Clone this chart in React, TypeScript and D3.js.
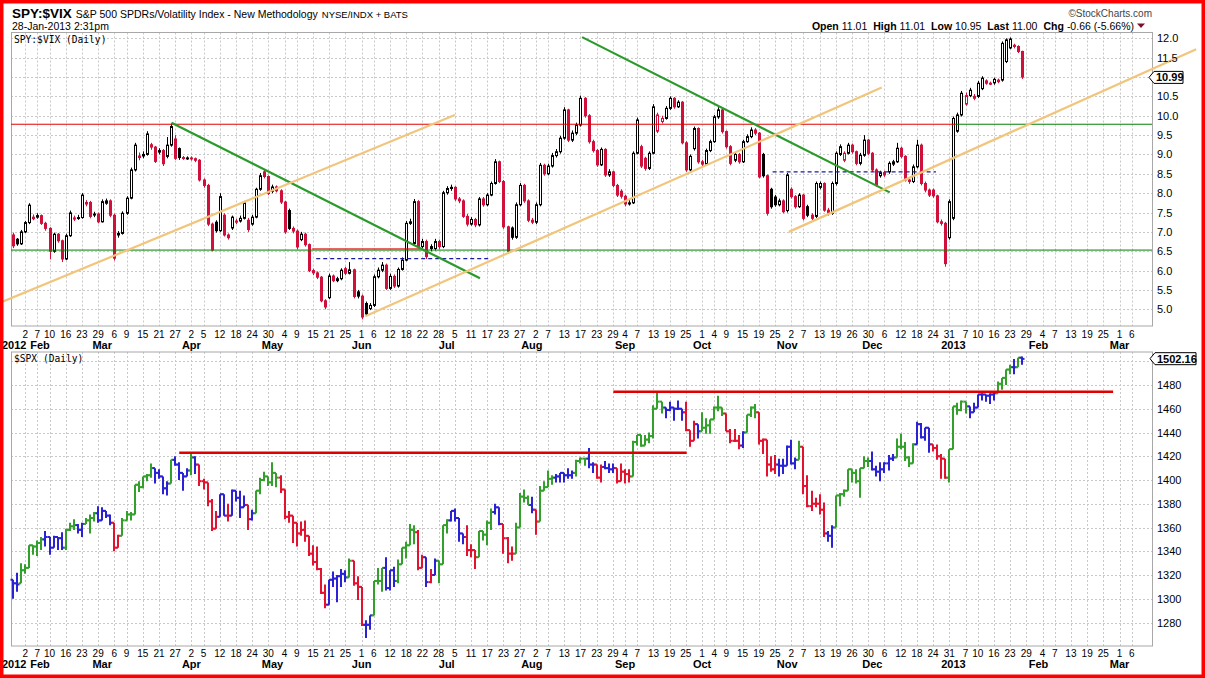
import React from 'react';
import * as d3 from 'd3';

// market holidays inside the charted range (trading-day axis skips them)
const holidays = [
  '2012-02-20', '2012-04-06', '2012-05-28', '2012-07-04', '2012-09-03', '2012-10-29',
  '2012-10-30', '2012-11-22', '2012-12-25', '2013-01-01', '2013-01-21',
];

const tickDates = [
  '2012-02-02', '2012-02-07', '2012-02-10', '2012-02-16', '2012-02-23', '2012-02-29',
  '2012-03-06', '2012-03-09', '2012-03-15', '2012-03-21', '2012-03-27',
  '2012-04-02', '2012-04-05', '2012-04-12', '2012-04-18', '2012-04-24', '2012-04-30',
  '2012-05-04', '2012-05-09', '2012-05-15', '2012-05-21', '2012-05-25',
  '2012-06-01', '2012-06-06', '2012-06-12', '2012-06-18', '2012-06-22', '2012-06-28',
  '2012-07-05', '2012-07-11', '2012-07-17', '2012-07-23', '2012-07-27',
  '2012-08-02', '2012-08-07', '2012-08-13', '2012-08-17', '2012-08-23', '2012-08-29',
  '2012-09-04', '2012-09-07', '2012-09-13', '2012-09-19', '2012-09-25',
  '2012-10-01', '2012-10-04', '2012-10-09', '2012-10-15', '2012-10-19', '2012-10-25',
  '2012-11-02', '2012-11-07', '2012-11-13', '2012-11-19', '2012-11-26', '2012-11-30',
  '2012-12-06', '2012-12-12', '2012-12-18', '2012-12-24', '2012-12-31',
  '2013-01-07', '2013-01-10', '2013-01-16', '2013-01-23', '2013-01-29',
  '2013-02-04', '2013-02-07', '2013-02-13', '2013-02-19', '2013-02-25',
  '2013-03-01', '2013-03-06',
];

// SPY:$VIX daily candles, 2012-01-30 .. 2013-01-28
const ratioOpen = [
  6.92, 6.81, 6.69, 7.00, 7.24, 7.34, 7.38, 7.42, 7.22, 7.09,
  6.50, 6.94, 6.77, 6.30, 6.90, 7.33, 7.36, 7.37, 7.72, 7.76,
  7.44, 7.46, 7.26, 7.74, 7.80, 7.43, 6.92, 6.96, 7.48, 7.87,
  8.60, 8.92, 8.96, 9.00, 9.25, 9.19, 9.06, 9.10, 8.95, 9.24,
  9.40, 9.15, 8.92, 8.90, 8.91, 8.89, 8.85, 8.34, 8.20, 7.20,
  7.25, 7.03, 7.43, 6.92, 7.10, 7.25, 7.28, 7.35, 7.30, 7.20,
  7.38, 8.10, 8.55, 8.43, 8.05, 8.16, 8.06, 7.77, 7.55, 7.09,
  7.02, 6.80, 6.94, 6.67, 6.00, 5.94, 5.83, 5.22, 5.30, 5.86,
  5.74, 5.79, 6.05, 5.93, 6.02, 5.45, 5.34, 5.15, 5.02, 5.10,
  5.84, 6.01, 6.14, 5.54, 5.85, 5.60, 6.03, 6.27, 7.22, 6.70,
  7.78, 6.62, 6.75, 6.62, 6.57, 6.75, 6.62, 8.01, 8.12, 8.15,
  7.85, 7.80, 7.40, 7.20, 7.32, 7.18, 7.85, 7.70, 7.95, 8.25,
  8.81, 8.30, 7.13, 7.10, 6.86, 7.70, 8.20, 7.80, 7.30, 7.25,
  7.70, 8.72, 8.50, 8.70, 8.97, 9.07, 9.42, 10.15, 9.37, 9.55,
  9.76, 10.45, 10.00, 9.33, 9.10, 8.73, 9.13, 8.47, 8.55, 8.20,
  8.05, 7.92, 7.72, 7.75, 9.03, 9.20, 8.90, 8.64, 9.03, 9.60,
  9.85, 9.93, 10.19, 10.45, 10.23, 10.35, 9.30, 8.60, 9.15, 9.67,
  8.81, 8.75, 9.10, 9.33, 9.97, 10.15, 9.59, 9.20, 8.85, 9.00,
  8.81, 9.33, 9.46, 9.63, 9.55, 9.00, 8.45, 8.10, 7.90, 7.70,
  7.80, 7.55, 8.10, 7.91, 7.65, 7.95, 7.65, 7.43, 7.40, 8.15,
  8.25, 7.56, 7.48, 8.25, 9.00, 8.85, 9.03, 9.24, 9.07, 8.77,
  8.98, 9.37, 9.03, 8.60, 8.45, 8.53, 8.55, 8.75, 8.81, 9.16,
  8.95, 8.34, 8.30, 8.68, 9.24, 8.25, 8.08, 8.08, 7.93, 7.26,
  7.22, 6.85, 7.35, 9.60, 10.02, 10.30, 10.52, 10.45, 10.50, 10.70,
  10.90, 10.84, 10.85, 10.88, 10.92, 11.40, 11.75, 11.82, 11.79, 11.66,
];
const ratioHigh = [
  6.98, 6.84, 7.05, 7.28, 7.74, 7.45, 7.48, 7.45, 7.26, 7.12,
  6.98, 6.97, 6.80, 6.95, 7.55, 7.42, 7.44, 8.00, 7.82, 7.80,
  7.52, 7.50, 7.84, 7.86, 7.84, 7.47, 7.02, 7.53, 7.92, 8.66,
  9.30, 9.05, 9.08, 9.60, 9.30, 9.22, 9.16, 9.14, 9.45, 9.80,
  9.50, 9.18, 8.96, 8.95, 8.95, 8.92, 8.88, 8.38, 8.24, 7.24,
  7.30, 8.00, 7.48, 6.96, 7.42, 7.34, 7.42, 7.80, 7.36, 7.44,
  8.14, 8.52, 8.60, 8.46, 8.22, 8.20, 8.10, 7.80, 7.60, 7.14,
  7.06, 7.00, 6.98, 6.70, 6.05, 5.98, 5.86, 5.26, 5.92, 5.90,
  5.84, 6.06, 6.10, 6.22, 6.05, 5.50, 5.38, 5.20, 5.16, 5.90,
  6.08, 6.22, 6.18, 5.92, 5.90, 6.08, 6.34, 7.28, 7.34, 7.85,
  7.82, 6.82, 6.80, 6.68, 6.82, 6.80, 8.06, 8.18, 8.22, 8.18,
  7.90, 7.84, 7.46, 7.38, 7.36, 7.90, 7.90, 8.00, 8.30, 8.88,
  8.84, 8.34, 7.16, 7.14, 7.76, 8.26, 8.24, 7.84, 7.36, 7.76,
  8.78, 8.76, 8.76, 9.04, 9.14, 9.48, 10.22, 10.18, 9.62, 9.82,
  10.52, 10.48, 10.04, 9.38, 9.14, 9.18, 9.16, 8.62, 8.58, 8.24,
  8.10, 7.96, 7.82, 9.08, 9.95, 9.25, 8.94, 9.08, 10.30, 10.08,
  10.00, 10.25, 10.50, 10.48, 10.40, 10.38, 9.34, 9.00, 9.72, 9.70,
  8.86, 9.15, 9.38, 10.02, 10.22, 10.18, 9.62, 9.24, 9.06, 9.04,
  9.38, 9.52, 9.70, 9.68, 9.58, 9.04, 8.48, 8.14, 7.95, 7.86,
  7.84, 8.52, 8.15, 7.95, 8.00, 7.98, 7.70, 7.48, 8.30, 8.30,
  8.28, 7.62, 8.30, 9.08, 9.26, 9.08, 9.30, 9.28, 9.10, 9.04,
  9.50, 9.40, 9.06, 8.64, 8.58, 8.58, 8.82, 8.86, 9.30, 9.20,
  8.98, 8.38, 8.74, 9.38, 9.28, 8.30, 8.12, 8.12, 7.96, 7.32,
  7.26, 7.84, 9.98, 10.08, 10.64, 10.60, 10.72, 10.56, 10.90, 11.02,
  10.94, 10.88, 10.98, 10.96, 11.92, 12.00, 12.02, 11.86, 11.82, 11.68,
];
const ratioLow = [
  6.58, 6.64, 6.66, 6.97, 7.20, 7.30, 7.34, 7.18, 7.03, 6.29,
  6.46, 6.72, 6.22, 6.27, 6.87, 7.28, 7.31, 7.34, 7.66, 7.35,
  7.38, 7.22, 7.24, 7.70, 7.38, 6.26, 6.85, 6.93, 7.44, 7.84,
  8.56, 8.85, 8.90, 8.97, 9.12, 8.78, 9.00, 8.70, 8.90, 9.20,
  8.86, 8.86, 8.86, 8.86, 8.84, 8.80, 8.30, 8.14, 7.15, 6.50,
  6.98, 7.00, 6.88, 6.80, 7.05, 7.20, 7.24, 7.32, 7.00, 7.16,
  7.35, 8.06, 8.38, 7.95, 8.00, 8.02, 7.72, 6.95, 7.05, 6.96,
  6.55, 6.76, 6.62, 5.96, 5.88, 5.78, 5.18, 5.00, 5.26, 5.70,
  5.70, 5.75, 5.88, 5.90, 5.28, 5.28, 4.74, 4.84, 4.98, 5.06,
  5.80, 5.96, 5.50, 5.50, 5.55, 5.56, 6.00, 6.24, 7.18, 6.66,
  6.58, 6.58, 6.30, 6.50, 6.52, 6.56, 6.58, 7.96, 8.06, 7.80,
  7.74, 7.36, 7.14, 7.16, 7.12, 7.14, 7.65, 7.66, 7.92, 8.22,
  8.26, 7.08, 6.44, 6.80, 6.82, 7.66, 7.75, 7.25, 7.20, 7.20,
  7.66, 8.45, 8.46, 8.66, 8.92, 9.02, 9.38, 9.32, 9.32, 9.50,
  9.72, 9.95, 9.28, 9.05, 8.68, 8.70, 8.42, 8.42, 8.15, 7.90,
  7.86, 7.66, 7.68, 7.72, 9.00, 8.65, 8.58, 8.60, 9.00, 9.55,
  9.80, 9.90, 10.15, 10.18, 10.20, 9.26, 8.55, 8.56, 9.10, 8.76,
  8.70, 8.72, 9.06, 9.30, 9.92, 9.54, 9.15, 8.72, 8.80, 8.76,
  8.78, 9.30, 9.42, 9.50, 8.38, 8.40, 7.42, 7.60, 7.65, 7.66,
  7.48, 7.50, 7.86, 7.60, 7.62, 7.30, 7.38, 7.30, 7.36, 8.10,
  7.52, 7.42, 7.44, 8.20, 8.96, 8.80, 9.00, 9.02, 8.72, 8.72,
  8.94, 8.98, 8.55, 8.16, 8.40, 8.42, 8.50, 8.70, 8.78, 8.90,
  8.30, 8.24, 8.26, 8.64, 8.20, 8.02, 7.90, 7.88, 7.22, 7.16,
  6.10, 6.80, 7.30, 9.56, 9.98, 10.26, 10.48, 10.40, 10.46, 10.66,
  10.80, 10.79, 10.80, 10.84, 10.88, 11.36, 11.72, 11.74, 11.62, 10.95,
];
const ratioClose = [
  6.64, 6.69, 7.00, 7.24, 7.69, 7.38, 7.42, 7.22, 7.09, 6.50,
  6.94, 6.77, 6.30, 6.90, 7.49, 7.36, 7.37, 7.95, 7.76, 7.40,
  7.46, 7.26, 7.78, 7.80, 7.43, 6.32, 6.96, 7.48, 7.87, 8.60,
  9.24, 8.96, 9.00, 9.53, 9.19, 8.82, 9.10, 8.76, 9.24, 9.72,
  8.90, 8.92, 8.90, 8.91, 8.89, 8.85, 8.34, 8.20, 7.20, 6.53,
  7.03, 7.91, 6.92, 6.85, 7.38, 7.28, 7.35, 7.75, 7.06, 7.38,
  8.10, 8.45, 8.43, 7.99, 8.16, 8.06, 7.77, 7.00, 7.09, 7.02,
  6.61, 6.94, 6.67, 6.00, 5.94, 5.83, 5.22, 5.06, 5.86, 5.74,
  5.79, 6.01, 5.93, 6.02, 5.33, 5.34, 4.80, 4.88, 5.10, 5.84,
  6.01, 6.14, 5.54, 5.85, 5.60, 6.03, 6.27, 7.22, 7.26, 7.78,
  6.62, 6.75, 6.36, 6.57, 6.75, 6.62, 8.01, 8.12, 8.15, 7.85,
  7.80, 7.40, 7.20, 7.32, 7.18, 7.85, 7.70, 7.95, 8.25, 8.81,
  8.30, 7.13, 6.50, 6.86, 7.70, 8.20, 7.80, 7.30, 7.25, 7.70,
  8.72, 8.50, 8.70, 8.97, 9.07, 9.42, 10.15, 9.37, 9.55, 9.76,
  10.45, 10.00, 9.33, 9.10, 8.73, 9.13, 8.47, 8.55, 8.20, 7.95,
  7.92, 7.72, 7.75, 9.03, 9.89, 8.70, 8.64, 9.03, 10.23, 10.02,
  9.93, 10.19, 10.45, 10.23, 10.35, 9.30, 8.60, 8.95, 9.67, 8.81,
  8.75, 9.10, 9.33, 9.97, 10.15, 9.59, 9.20, 8.77, 9.00, 8.81,
  9.33, 9.46, 9.63, 9.55, 8.42, 8.45, 7.48, 7.65, 7.70, 7.80,
  7.52, 8.47, 7.91, 7.65, 7.95, 7.35, 7.43, 7.35, 8.25, 8.25,
  7.56, 7.48, 8.25, 9.03, 9.20, 9.03, 9.24, 9.07, 8.77, 8.98,
  9.37, 9.03, 8.60, 8.21, 8.53, 8.47, 8.77, 8.81, 9.16, 8.95,
  8.34, 8.30, 8.68, 9.24, 8.25, 8.08, 7.95, 7.93, 7.26, 7.22,
  6.18, 7.78, 9.93, 10.02, 10.58, 10.52, 10.66, 10.50, 10.84, 10.97,
  10.84, 10.83, 10.94, 10.92, 11.87, 11.96, 11.98, 11.79, 11.66, 11.00,
];

// $SPX daily bars, same dates
const spxOpen = [
  1316, 1313, 1313, 1324, 1326, 1345, 1344, 1347, 1350, 1352,
  1343, 1352, 1351, 1343, 1358, 1361, 1362, 1358, 1363, 1366,
  1368, 1372, 1366, 1374, 1370, 1364, 1343, 1353, 1366, 1371,
  1371, 1396, 1394, 1403, 1404, 1410, 1406, 1403, 1393, 1397,
  1417, 1413, 1406, 1403, 1408, 1419, 1413, 1399, 1398, 1382,
  1359, 1369, 1388, 1370, 1370, 1391, 1385, 1377, 1379, 1367,
  1372, 1391, 1400, 1403, 1398, 1406, 1402, 1392, 1369, 1370,
  1364, 1355, 1358, 1353, 1338, 1331, 1325, 1305, 1295, 1316,
  1317, 1319, 1321, 1318, 1332, 1313, 1310, 1278, 1278, 1286,
  1315, 1315, 1326, 1309, 1324, 1315, 1329, 1343, 1345, 1358,
  1356, 1326, 1335, 1314, 1320, 1332, 1329, 1362, 1366, 1374,
  1368, 1355, 1352, 1341, 1341, 1335, 1357, 1354, 1364, 1373,
  1377, 1363, 1351, 1338, 1338, 1360, 1386, 1385, 1379, 1375,
  1365, 1391, 1394, 1401, 1402, 1403, 1406, 1404, 1404, 1406,
  1416, 1418, 1418, 1413, 1413, 1402, 1411, 1410, 1409, 1410,
  1399, 1407, 1405, 1403, 1432, 1438, 1429, 1434, 1437, 1460,
  1466, 1461, 1459, 1461, 1460, 1460, 1457, 1442, 1433, 1447,
  1441, 1444, 1446, 1451, 1461, 1461, 1456, 1441, 1433, 1433,
  1429, 1440, 1455, 1461, 1457, 1433, 1434, 1413, 1409, 1413,
  1412, 1412, 1428, 1414, 1417, 1428, 1395, 1378, 1380, 1380,
  1375, 1355, 1353, 1360, 1387, 1388, 1391, 1409, 1406, 1399,
  1410, 1416, 1416, 1409, 1407, 1409, 1414, 1418, 1419, 1428,
  1428, 1419, 1414, 1430, 1447, 1436, 1444, 1430, 1427, 1420,
  1418, 1402, 1426, 1462, 1459, 1466, 1462, 1457, 1461, 1472,
  1472, 1471, 1472, 1473, 1481, 1486, 1493, 1495, 1495, 1503,
];
const spxHigh = [
  1316, 1322, 1330, 1329, 1345, 1345, 1349, 1352, 1357, 1352,
  1353, 1352, 1356, 1359, 1364, 1367, 1363, 1364, 1368, 1371,
  1373, 1378, 1377, 1374, 1371, 1364, 1354, 1368, 1374, 1373,
  1396, 1399, 1403, 1405, 1414, 1410, 1409, 1403, 1399, 1417,
  1420, 1415, 1406, 1410, 1422, 1420, 1413, 1401, 1398, 1384,
  1374, 1388, 1388, 1380, 1392, 1391, 1391, 1387, 1379, 1375,
  1391, 1402, 1407, 1403, 1415, 1406, 1404, 1392, 1374, 1370,
  1364, 1365, 1366, 1353, 1345, 1344, 1326, 1312, 1316, 1323,
  1320, 1325, 1324, 1334, 1332, 1319, 1310, 1282, 1286, 1315,
  1326, 1326, 1335, 1324, 1327, 1333, 1343, 1348, 1363, 1362,
  1358, 1337, 1335, 1325, 1334, 1332, 1362, 1367, 1374, 1376,
  1368, 1355, 1362, 1346, 1341, 1357, 1357, 1366, 1376, 1380,
  1377, 1363, 1352, 1344, 1364, 1389, 1392, 1387, 1386, 1375,
  1395, 1399, 1408, 1404, 1405, 1406, 1406, 1410, 1408, 1417,
  1419, 1418, 1427, 1415, 1413, 1413, 1416, 1414, 1414, 1410,
  1414, 1409, 1409, 1433, 1438, 1438, 1438, 1440, 1463, 1475,
  1466, 1461, 1466, 1461, 1467, 1460, 1466, 1442, 1450, 1447,
  1457, 1452, 1451, 1462, 1471, 1461, 1456, 1443, 1443, 1438,
  1441, 1455, 1462, 1464, 1457, 1435, 1434, 1420, 1421, 1418,
  1418, 1429, 1434, 1419, 1433, 1428, 1404, 1391, 1385, 1388,
  1381, 1357, 1362, 1387, 1389, 1392, 1409, 1409, 1409, 1410,
  1420, 1419, 1424, 1412, 1415, 1415, 1421, 1422, 1435, 1439,
  1432, 1420, 1431, 1449, 1448, 1444, 1444, 1430, 1430, 1422,
  1418, 1426, 1462, 1465, 1467, 1466, 1462, 1465, 1472, 1473,
  1472, 1473, 1474, 1483, 1486, 1493, 1497, 1502, 1503, 1504,
];
const spxLow = [
  1300, 1306, 1313, 1321, 1326, 1337, 1336, 1341, 1344, 1337,
  1343, 1341, 1341, 1341, 1357, 1358, 1355, 1352, 1363, 1355,
  1365, 1364, 1366, 1368, 1362, 1340, 1343, 1353, 1366, 1366,
  1371, 1390, 1393, 1399, 1402, 1397, 1401, 1388, 1387, 1397,
  1412, 1400, 1391, 1403, 1404, 1405, 1395, 1392, 1378, 1357,
  1359, 1369, 1370, 1365, 1370, 1382, 1368, 1377, 1358, 1366,
  1372, 1388, 1399, 1395, 1395, 1394, 1389, 1367, 1364, 1347,
  1344, 1353, 1348, 1336, 1328, 1324, 1304, 1292, 1295, 1310,
  1297, 1310, 1314, 1318, 1311, 1299, 1277, 1267, 1274, 1286,
  1312, 1306, 1307, 1307, 1310, 1313, 1329, 1334, 1345, 1346,
  1324, 1326, 1310, 1313, 1320, 1313, 1329, 1355, 1365, 1365,
  1348, 1346, 1336, 1335, 1325, 1335, 1349, 1345, 1358, 1371,
  1362, 1338, 1330, 1332, 1338, 1360, 1381, 1379, 1372, 1354,
  1365, 1391, 1394, 1396, 1398, 1398, 1398, 1401, 1401, 1403,
  1414, 1412, 1410, 1406, 1401, 1398, 1409, 1406, 1406, 1397,
  1399, 1397, 1398, 1403, 1429, 1428, 1429, 1431, 1435, 1460,
  1456, 1452, 1458, 1450, 1459, 1450, 1441, 1428, 1433, 1435,
  1441, 1439, 1439, 1451, 1458, 1454, 1441, 1431, 1432, 1426,
  1427, 1440, 1453, 1452, 1430, 1422, 1403, 1407, 1405, 1403,
  1405, 1412, 1413, 1409, 1417, 1388, 1377, 1374, 1377, 1371,
  1352, 1348, 1343, 1360, 1378, 1386, 1391, 1398, 1397, 1385,
  1410, 1411, 1408, 1403, 1399, 1406, 1408, 1416, 1419, 1426,
  1416, 1411, 1414, 1430, 1435, 1433, 1423, 1424, 1417, 1401,
  1401, 1398, 1426, 1455, 1458, 1456, 1452, 1457, 1461, 1467,
  1466, 1464, 1467, 1473, 1476, 1480, 1489, 1489, 1495, 1497,
];
const spxClose = [
  1313, 1312, 1324, 1326, 1345, 1344, 1347, 1350, 1352, 1343,
  1352, 1351, 1343, 1358, 1361, 1362, 1358, 1363, 1366, 1368,
  1372, 1366, 1374, 1370, 1364, 1343, 1353, 1366, 1371, 1371,
  1396, 1394, 1403, 1404, 1410, 1406, 1403, 1393, 1397, 1417,
  1413, 1406, 1403, 1408, 1419, 1413, 1399, 1398, 1382, 1359,
  1369, 1388, 1370, 1370, 1391, 1385, 1377, 1379, 1367, 1372,
  1391, 1400, 1403, 1398, 1406, 1402, 1392, 1369, 1370, 1364,
  1355, 1358, 1353, 1338, 1331, 1325, 1305, 1295, 1316, 1317,
  1319, 1321, 1318, 1332, 1313, 1310, 1278, 1278, 1286, 1315,
  1315, 1326, 1309, 1324, 1315, 1329, 1343, 1345, 1358, 1356,
  1326, 1335, 1314, 1320, 1332, 1329, 1362, 1366, 1374, 1368,
  1355, 1352, 1341, 1341, 1335, 1357, 1354, 1364, 1373, 1377,
  1363, 1351, 1338, 1338, 1360, 1386, 1385, 1379, 1375, 1365,
  1391, 1394, 1401, 1402, 1403, 1406, 1404, 1404, 1406, 1416,
  1418, 1418, 1413, 1413, 1402, 1411, 1410, 1409, 1410, 1399,
  1407, 1405, 1403, 1432, 1438, 1429, 1434, 1437, 1460, 1466,
  1461, 1459, 1461, 1460, 1460, 1457, 1442, 1433, 1447, 1441,
  1444, 1446, 1451, 1461, 1461, 1456, 1441, 1433, 1433, 1429,
  1440, 1455, 1461, 1457, 1433, 1434, 1413, 1409, 1413, 1412,
  1412, 1428, 1414, 1417, 1428, 1395, 1378, 1380, 1380, 1375,
  1355, 1353, 1360, 1387, 1388, 1391, 1409, 1406, 1399, 1410,
  1416, 1416, 1409, 1407, 1409, 1414, 1418, 1419, 1428, 1428,
  1419, 1414, 1430, 1447, 1436, 1444, 1430, 1427, 1420, 1418,
  1402, 1426, 1462, 1459, 1466, 1462, 1457, 1461, 1472, 1472,
  1471, 1472, 1473, 1481, 1486, 1493, 1495, 1495, 1503, 1502,
];
// bar colour per day as shown: g = green, r = red, b = blue
const spxImpulse = [
  'bbggggggbb', 'bbbgggbbgg', 'gbbbbrrggg', 'gggggbbbbg', 'bbbbgbrrrr',
  'rbbrbbbbrb', 'ggggggrrrr', 'rrrrrrrrbb', 'bbbgrrrbbg', 'ggbbbggggg',
  'rrbrbgggbb', 'bbrrrggggb', 'brrrggggbr', 'ggggbbbbbg', 'ggbbrrbbbr',
  'rrrggggggg', 'gbbbbbrrrb', 'ggggggrrrr', 'bgggrrrrrb', 'bbbbgrrrrr',
  'rbbggggggg', 'ggbbbbbbgg', 'gggbbbbrrr', 'rgggggbbbb', 'bbbggggbgb',
].join('');

const ratioGrid = [5, 5.5, 6, 6.5, 7, 7.5, 8, 8.5, 9, 9.5, 10, 10.5, 11, 11.5, 12];
// 11.0 sits under the last-price box, so it carries no label
const ratioLabels = [5, 5.5, 6, 6.5, 7, 7.5, 8, 8.5, 9, 9.5, 10, 10.5, 11.5, 12];
const spxGrid = [1280, 1300, 1320, 1340, 1360, 1380, 1400, 1420, 1440, 1460, 1480, 1500];
const spxLabels = [1280, 1300, 1320, 1340, 1360, 1380, 1400, 1420, 1440, 1460, 1480];

// annotation lines, in (trading-day index, value)
const ratioLevels = [
  { v: 9.78, i0: -0.5, i1: 232.6, color: '#e00000' },
  { v: 9.78, i0: 232.6, i1: 281, color: '#008000' },
  { v: 6.53, i0: -0.5, i1: 281, color: '#008000' },
  { v: 6.56, i0: 73.8, i1: 100.5, color: '#e00000' },
];
const ratioDashed = [
  { v: 6.31, i0: 74.8, i1: 117.3 },
  { v: 8.55, i0: 187.4, i1: 227.7 },
];
const ratioTrends = [
  { color: '#2a9a2a', i0: 39.1, v0: 9.82, i1: 115.2, v1: 5.80 },
  { color: '#2a9a2a', i0: 140.4, v0: 12.03, i1: 216.3, v1: 8.02 },
  { color: '#f2c57c', i0: -3.2, v0: 5.17, i1: 109.0, v1: 10.02 },
  { color: '#f2c57c', i0: 86.9, v0: 4.82, i1: 214.3, v1: 10.73 },
  { color: '#f2c57c', i0: 191.4, v0: 7.0, i1: 291.9, v1: 11.72 },
];
const spxLevels = [
  { v: 1423, i0: 41, i1: 166.2 },
  { v: 1474.4, i0: 148.1, i1: 271.4 },
];

const FONT = 'Arial, "Liberation Sans", Helvetica, sans-serif';
const MONO = '"DejaVu Sans Mono", "Liberation Mono", monospace';
const RED = '#d0103a';
const BAR = { g: '#33a02c', r: '#e3122e', b: '#2a22d4' };
const PL = 11;
const PR = 1152;
const TOP = [32.5, 326];
const BOT = [352, 646];

export default function App() {
  const fmt = d3.utcFormat('%Y-%m-%d');
  const days = d3
    .utcDays(new Date(Date.UTC(2012, 0, 30)), new Date(Date.UTC(2013, 2, 16)))
    .filter((d) => d.getUTCDay() !== 0 && d.getUTCDay() !== 6 && !holidays.includes(fmt(d)));
  const indexOf = new Map(days.map((d, i) => [fmt(d), i]));

  const x = d3.scaleLinear().domain([-0.5, 281]).range([PL, PR]);
  const yR = d3.scaleLinear().domain([5, 12]).range([309.3, 38.3]);
  const yS = d3.scaleLinear().domain([1400, 1480]).range([480, 385]);

  const ticks = tickDates.map((s) => ({ i: indexOf.get(s) as number, day: +s.slice(8) }));
  const months: { i: number; label: string }[] = [];
  days.forEach((d, i) => {
    if (i === 0 || x(i) > PR) return;
    if (d.getUTCMonth() !== days[i - 1].getUTCMonth()) {
      months.push({ i, label: d.getUTCMonth() === 0 ? String(d.getUTCFullYear()) : d3.utcFormat('%b')(d) });
    }
  });

  const px = (i: number) => Math.round(x(i));

  const grid = (y0: number, y1: number) => (
    <g stroke="#c9c9c9" strokeDasharray="2,2" strokeWidth={1}>
      {ticks.map((t) => (
        <line key={t.i} x1={px(t.i) + 0.5} x2={px(t.i) + 0.5} y1={y0} y2={y1} />
      ))}
    </g>
  );

  const axis = (yDay: number, yMonth: number) => (
    <g fontFamily={FONT} fill="#000">
      {ticks.map((t) => (
        <text key={t.i} x={x(t.i)} y={yDay} fontSize={10} textAnchor="middle">{t.day}</text>
      ))}
      <text x={2} y={yMonth} fontSize={11} fontWeight="bold">2012</text>
      {months.map((m, k) => (
        <text key={m.i} x={k === 0 ? Math.max(x(m.i), 40) : x(m.i)} y={yMonth} fontSize={11}
          fontWeight="bold" textAnchor="middle">{m.label}</text>
      ))}
    </g>
  );

  const candles = ratioClose.map((c, i) => {
    const o = ratioOpen[i];
    const prev = i > 0 ? ratioClose[i - 1] : Infinity;
    const color = c >= prev ? '#000' : RED;
    const filled = c < o;
    const cx = px(i);
    const top = yR(Math.max(o, c));
    const bot = yR(Math.min(o, c));
    return (
      <g key={i}>
        <line x1={cx + 0.5} x2={cx + 0.5} y1={yR(ratioHigh[i])} y2={yR(ratioLow[i])} stroke={color} />
        <rect x={cx - 0.5} y={top} width={2} height={Math.max(1, bot - top)}
          fill={filled ? color : '#fff'} stroke={color} strokeWidth={1} />
      </g>
    );
  });

  const bars = spxClose.map((c, i) => {
    const color = BAR[spxImpulse[i] as 'g' | 'r' | 'b'];
    const bx = px(i);
    return (
      <g key={i} stroke={color} strokeWidth={2}>
        <line x1={bx} x2={bx} y1={yS(spxHigh[i])} y2={yS(spxLow[i])} />
        <line x1={bx - 2.5} x2={bx} y1={yS(spxOpen[i])} y2={yS(spxOpen[i])} />
        <line x1={bx} x2={bx + 2.5} y1={yS(c)} y2={yS(c)} />
      </g>
    );
  });

  const lastR = 10.99;
  const lastS = 1502.16;
  const ry = yR(lastR);
  const sy = yS(lastS);

  return (
    <div style={{ position: 'absolute', left: 0, top: 0 }}>
      <svg width={1205} height={678} style={{ display: 'block', background: '#fff' }}>
        <rect x={0} y={0} width={1205} height={678} fill="#fff" />

        {/* header */}
        <text x={12} y={18} fontFamily={FONT}>
          <tspan fontSize={13.5} fontWeight="bold">SPY:$VIX</tspan>
          <tspan dx={4} fontSize={10.5}>{'S&P 500 SPDRs/Volatility Index - New Methodology'}</tspan>
          <tspan dx={4} fontSize={9.5}>NYSE/INDX + BATS</tspan>
        </text>
        <text x={12} y={29.5} fontFamily={FONT} fontSize={10.5}>28-Jan-2013 2:31pm</text>
        <text x={1152} y={17} fontFamily={FONT} fontSize={10} fill="#444" textAnchor="end">©StockCharts.com</text>
        <text x={1134} y={29.5} fontFamily={FONT} fontSize={10.5} textAnchor="end">
          <tspan fontWeight="bold">Open</tspan><tspan dx={3}>11.01</tspan>
          <tspan dx={6} fontWeight="bold">High</tspan><tspan dx={3}>11.01</tspan>
          <tspan dx={6} fontWeight="bold">Low</tspan><tspan dx={3}>10.95</tspan>
          <tspan dx={6} fontWeight="bold">Last</tspan><tspan dx={3}>11.00</tspan>
          <tspan dx={6} fontWeight="bold">Chg</tspan><tspan dx={3}>-0.66 (-5.66%)</tspan>
        </text>
        <path d="M1137,23.5 L1145,23.5 L1141,28 Z" fill="#7a1030" />

        {/* top panel */}
        <g stroke="#c9c9c9" strokeDasharray="2,2">
          {ratioGrid.map((v) => (
            <line key={v} x1={PL} x2={PR} y1={Math.round(yR(v)) + 0.5} y2={Math.round(yR(v)) + 0.5} />
          ))}
        </g>
        {grid(TOP[0], TOP[1])}
        <rect x={PL + 0.5} y={TOP[0]} width={PR - PL} height={TOP[1] - TOP[0]} fill="none" stroke="#a8a8a8" />
        <text x={14} y={43} fontFamily={MONO} fontSize={9.6}>SPY:$VIX (Daily)</text>
        {candles}
        {ratioLevels.map((l, k) => (
          <line key={k} x1={x(l.i0)} x2={x(l.i1)} y1={yR(l.v)} y2={yR(l.v)} stroke={l.color} strokeWidth={1} />
        ))}
        {ratioDashed.map((l, k) => (
          <line key={k} x1={x(l.i0)} x2={x(l.i1)} y1={yR(l.v)} y2={yR(l.v)} stroke="#1a1aa0"
            strokeWidth={1.2} strokeDasharray="4,3" />
        ))}
        {ratioTrends.map((t, k) => (
          <line key={k} x1={x(t.i0)} x2={x(t.i1)} y1={yR(t.v0)} y2={yR(t.v1)} stroke={t.color} strokeWidth={2.2} />
        ))}
        <g fontFamily={FONT} fontSize={11}>
          {ratioLabels.map((v) => (
            <text key={v} x={1157} y={yR(v) + 4}>{v.toFixed(1)}</text>
          ))}
        </g>
        <path d={`M1149,${ry} L1154,${ry - 6} L1183,${ry - 6} L1183,${ry + 6} L1154,${ry + 6} Z`}
          fill="#fff" stroke="#000" />
        <text x={1156} y={ry + 4} fontFamily={FONT} fontSize={11} fontWeight="bold">{lastR.toFixed(2)}</text>
        {axis(338, 349)}

        {/* bottom panel */}
        <g stroke="#c9c9c9" strokeDasharray="2,2">
          {spxGrid.map((v) => (
            <line key={v} x1={PL} x2={PR} y1={Math.round(yS(v)) + 0.5} y2={Math.round(yS(v)) + 0.5} />
          ))}
        </g>
        {grid(BOT[0], BOT[1])}
        <rect x={PL + 0.5} y={BOT[0]} width={PR - PL} height={BOT[1] - BOT[0]} fill="none" stroke="#a8a8a8" />
        <text x={14} y={362} fontFamily={MONO} fontSize={9.6}>$SPX (Daily)</text>
        {bars}
        {spxLevels.map((l, k) => (
          <line key={k} x1={x(l.i0)} x2={x(l.i1)} y1={yS(l.v)} y2={yS(l.v)} stroke="#e00000" strokeWidth={2.5} />
        ))}
        <g fontFamily={FONT} fontSize={11}>
          {spxLabels.map((v) => (
            <text key={v} x={1157} y={yS(v) + 4}>{v}</text>
          ))}
        </g>
        <path d={`M1150,${sy} L1155,${sy - 6} L1196,${sy - 6} L1196,${sy + 6} L1155,${sy + 6} Z`}
          fill="#fff" stroke="#000" />
        <text x={1157} y={sy + 4} fontFamily={FONT} fontSize={11} fontWeight="bold">{lastS.toFixed(2)}</text>
        {axis(657, 668)}

        {/* outer frame */}
        <rect x={1.75} y={1.75} width={1201.5} height={674.5} fill="none" stroke="#ff0000" strokeWidth={3.5} />
      </svg>
    </div>
  );
}
